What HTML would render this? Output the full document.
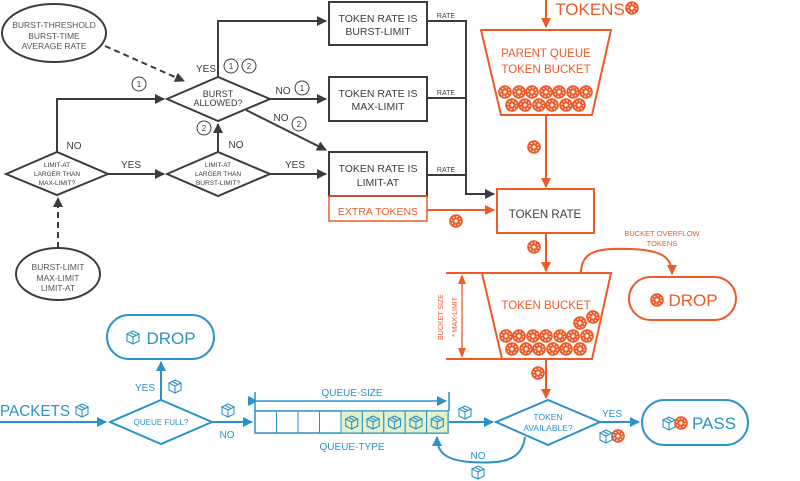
<!DOCTYPE html>
<html><head><meta charset="utf-8"><style>
html,body{margin:0;padding:0;background:#fff;}
svg{display:block;}
text{font-family:"Liberation Sans",sans-serif;}
</style></head><body>
<svg width="800" height="481" viewBox="0 0 800 481" xmlns="http://www.w3.org/2000/svg">
<defs>
<marker id="ag" markerWidth="10" markerHeight="10" refX="9" refY="5" orient="auto" markerUnits="userSpaceOnUse"><path d="M0,0 L10,5 L0,10 z" fill="#3c3c3c"/></marker>
<marker id="ao" markerWidth="10" markerHeight="10" refX="9" refY="5" orient="auto" markerUnits="userSpaceOnUse"><path d="M0,0 L10,5 L0,10 z" fill="#ee5a28"/></marker>
<marker id="ab" markerWidth="10" markerHeight="10" refX="9" refY="5" orient="auto" markerUnits="userSpaceOnUse"><path d="M0,0 L10,5 L0,10 z" fill="#2a93c8"/></marker>
<g id="tk"><circle r="6.8" fill="#ee5a28"/><circle r="4.3" fill="none" stroke="#fff" stroke-width="1.1" stroke-dasharray="1.6 1.8"/><circle r="1.6" fill="#fff"/></g>
<g id="pk" fill="none" stroke="#2a93c8" stroke-width="1.1"><path d="M-6,-3 L0,-6 L6,-3 L0,0 z M-6,-3 L-6,4 L0,7 L6,4 L6,-3 M0,0 L0,7 M-3,-4.5 L3,-1.5"/></g>
</defs>

<!-- GRAY PART -->
<g fill="none" stroke="#3c3c3c" stroke-width="2">
<ellipse cx="54" cy="33" rx="52" ry="29"/>
<ellipse cx="58" cy="274" rx="42" ry="26"/>
<path d="M6,174 L57,152 L108,174 L57,195 z"/>
<path d="M167,174 L218,152 L270,174 L218,196 z"/>
<path d="M167,99 L218,77 L270,99 L218,121 z"/>
<rect x="329" y="2" width="98" height="43"/>
<rect x="329" y="77" width="98" height="44"/>
<rect x="329" y="152" width="98" height="44"/>
<path d="M57,152 L57,99 L164,99" marker-end="url(#ag)"/>
<path d="M108,174 L164,174" marker-end="url(#ag)"/>
<path d="M218,152 L218,124" marker-end="url(#ag)"/>
<path d="M270,174 L326,174" marker-end="url(#ag)"/>
<path d="M218,77 L218,21 L326,21" marker-end="url(#ag)"/>
<path d="M270,99 L326,99" marker-end="url(#ag)"/>
<path d="M246,110 L326,150" marker-end="url(#ag)"/>
<path d="M427,21 L466,21 L466,194 L494,194" marker-end="url(#ag)"/>
<path d="M427,98 L466,98 M427,175 L466,175"/>
<path d="M105,46 L184,81" stroke-dasharray="6 4" marker-end="url(#ag)"/>
<path d="M58,248 L58,198" stroke-dasharray="6 4" marker-end="url(#ag)"/>
</g>
<g fill="none" stroke="#3c3c3c" stroke-width="1">
<circle cx="139" cy="84" r="7"/><circle cx="231" cy="66" r="7"/><circle cx="249" cy="66" r="7"/>
<circle cx="302" cy="88" r="7"/><circle cx="299" cy="124" r="7"/><circle cx="204" cy="128" r="7"/>
</g>
<g fill="#3c3c3c" font-size="8" text-anchor="middle">
<text x="139" y="87">1</text><text x="231" y="69">1</text><text x="249" y="69">2</text>
<text x="302" y="91">1</text><text x="299" y="127">2</text><text x="204" y="131">2</text>
</g>
<g fill="#555" font-size="8.5" text-anchor="middle">
<text x="54" y="28">BURST-THRESHOLD</text><text x="54" y="39">BURST-TIME</text><text x="54" y="49">AVERAGE RATE</text>
<text x="58" y="270">BURST-LIMIT</text><text x="58" y="281">MAX-LIMIT</text><text x="58" y="291">LIMIT-AT</text>
</g>
<g fill="#3c3c3c" font-size="6.5" text-anchor="middle">
<text x="57" y="167">LIMIT-AT</text><text x="57" y="176">LARGER THAN</text><text x="57" y="185">MAX-LIMIT?</text>
<text x="218" y="167">LIMIT-AT</text><text x="218" y="176">LARGER THAN</text><text x="218" y="185">BURST-LIMIT?</text>
</g>
<g fill="#3c3c3c" font-size="9" text-anchor="middle">
<text x="218" y="97">BURST</text><text x="218" y="106">ALLOWED?</text>
</g>
<g fill="#3c3c3c" font-size="10.5" text-anchor="middle">
<text x="378" y="22">TOKEN RATE IS</text><text x="378" y="35">BURST-LIMIT</text>
<text x="378" y="97">TOKEN RATE IS</text><text x="378" y="110">MAX-LIMIT</text>
<text x="378" y="172">TOKEN RATE IS</text><text x="378" y="186">LIMIT-AT</text>
</g>
<g fill="#3c3c3c" font-size="10" text-anchor="middle">
<text x="74" y="149">NO</text><text x="131" y="168">YES</text><text x="236" y="148">NO</text>
<text x="295" y="168">YES</text><text x="206" y="72">YES</text><text x="283" y="94">NO</text><text x="281" y="121">NO</text>
</g>
<g fill="#3c3c3c" font-size="7" text-anchor="middle">
<text x="446" y="18">RATE</text><text x="446" y="95">RATE</text><text x="446" y="172">RATE</text>
</g>

<!-- ORANGE PART -->
<g fill="none" stroke="#ee5a28" stroke-width="2">
<rect x="329" y="196" width="98" height="25" stroke-width="1.5"/>
<path d="M427,210 L494,210" marker-end="url(#ao)"/>
<rect x="497" y="189" width="97" height="44"/>
<path d="M546,0 L546,27" marker-end="url(#ao)"/>
<path d="M481,30 L611,30 L592,115 L501,115 z"/>
<path d="M546,115 L546,187" marker-end="url(#ao)"/>
<path d="M546,233 L546,271" marker-end="url(#ao)"/>
<path d="M446,273 L611,273 L592,359 L502,359 L482,273"/>
<path d="M446,359 L502,359"/>
<path d="M462,282 L462,350" stroke-width="1.3"/>
<rect x="629" y="277" width="107" height="43" rx="21.5"/>
<path d="M581,273 C581,250 600,248 630,249 C660,250 672,256 672,274" marker-end="url(#ao)"/>
<path d="M546,359 L546,398" marker-end="url(#ao)"/>
</g>
<path d="M462,274 L458,284 L466,284 z M462,358 L458,348 L466,348 z" fill="#ee5a28"/>
<g fill="#ee5a28" text-anchor="middle">
<text x="378" y="215" font-size="10.5">EXTRA TOKENS</text>
<text x="590" y="15" font-size="17">TOKENS</text>
<text x="546" y="57" font-size="11.5">PARENT QUEUE</text>
<text x="546" y="73" font-size="11.5">TOKEN BUCKET</text>
<text x="546" y="309" font-size="11.5">TOKEN BUCKET</text>
<text x="662" y="236" font-size="7.5">BUCKET OVERFLOW</text>
<text x="662" y="246" font-size="7.5">TOKENS</text>
<text x="693" y="306" font-size="17">DROP</text>
<text transform="translate(443,317) rotate(-90)" font-size="7">BUCKET SIZE</text>
<text transform="translate(457,317) rotate(-90)" font-size="7">* MAX-LIMIT</text>
</g>
<text x="545" y="218" font-size="11.5" fill="#3c3c3c" text-anchor="middle">TOKEN RATE</text>
<use href="#tk" x="632" y="8"/><use href="#tk" x="456" y="221"/>
<use href="#tk" x="534" y="147"/><use href="#tk" x="534" y="247"/><use href="#tk" x="657" y="300"/>
<use href="#tk" x="538" y="373"/><use href="#tk" x="618" y="436"/>
<g>
<use href="#tk" x="505" y="92"/><use href="#tk" x="519" y="92"/><use href="#tk" x="532" y="92"/><use href="#tk" x="546" y="92"/><use href="#tk" x="559" y="92"/><use href="#tk" x="573" y="92"/><use href="#tk" x="586" y="92"/>
<use href="#tk" x="512" y="105"/><use href="#tk" x="525" y="105"/><use href="#tk" x="539" y="105"/><use href="#tk" x="552" y="105"/><use href="#tk" x="566" y="105"/><use href="#tk" x="579" y="105"/>
<use href="#tk" x="506" y="336"/><use href="#tk" x="519" y="336"/><use href="#tk" x="533" y="336"/><use href="#tk" x="546" y="336"/><use href="#tk" x="560" y="336"/><use href="#tk" x="573" y="336"/><use href="#tk" x="587" y="336"/>
<use href="#tk" x="512" y="349"/><use href="#tk" x="526" y="349"/><use href="#tk" x="539" y="349"/><use href="#tk" x="553" y="349"/><use href="#tk" x="566" y="349"/><use href="#tk" x="580" y="349"/>
<use href="#tk" x="580" y="323"/><use href="#tk" x="593" y="317"/>
</g>

<!-- BLUE PART -->
<g fill="none" stroke="#2a93c8" stroke-width="2">
<path d="M0,422 L106,422" marker-end="url(#ab)"/>
<path d="M110,422 L161,400 L212,422 L161,444 z"/>
<path d="M161,400 L161,362" marker-end="url(#ab)"/>
<rect x="107" y="315" width="107" height="44" rx="22"/>
<path d="M212,422 L252,422" marker-end="url(#ab)"/>
<rect x="255" y="411" width="193" height="22" stroke-width="1.5"/>
<path d="M255,392 L255,411 M449,392 L449,411" stroke-width="1.5"/>
<path d="M257,401 L446,401" stroke-width="1.5" marker-start="url(#ab)" marker-end="url(#ab)"/>
<path d="M449,422 L493,422" marker-end="url(#ab)"/>
<path d="M496,422 L548,400 L600,422 L548,445 z"/>
<path d="M600,422 L639,422" marker-end="url(#ab)"/>
<rect x="642" y="400" width="106" height="45" rx="22.5"/>
<path d="M525,437 C522,462 500,464 470,462 C445,460 437,452 437,437" marker-end="url(#ab)"/>
</g>
<g fill="#e3f0c8" stroke="#2a93c8" stroke-width="1">
<rect x="341" y="411" width="21.4" height="22"/><rect x="362.4" y="411" width="21.4" height="22"/><rect x="383.8" y="411" width="21.4" height="22"/><rect x="405.2" y="411" width="21.4" height="22"/><rect x="426.6" y="411" width="21.4" height="22"/>
</g>
<g stroke="#2a93c8" stroke-width="1"><path d="M276.5,411 V433 M298,411 V433 M319.5,411 V433"/></g>
<g>
<use href="#pk" x="351.7" y="422"/><use href="#pk" x="373.1" y="422"/><use href="#pk" x="394.5" y="422"/><use href="#pk" x="415.9" y="422"/><use href="#pk" x="437.3" y="422"/>
<use href="#pk" x="82" y="410"/><use href="#pk" x="175" y="386"/><use href="#pk" x="228" y="410"/><use href="#pk" x="465" y="412"/><use href="#pk" x="478" y="472"/><use href="#pk" x="606" y="436"/><use href="#pk" x="133" y="337"/><use href="#pk" x="669" y="423"/>
</g>
<use href="#tk" x="681" y="423"/>
<g fill="#2a93c8" text-anchor="middle">
<text x="0" y="416" font-size="16" text-anchor="start" textLength="70" lengthAdjust="spacingAndGlyphs">PACKETS</text>
<text x="171" y="344" font-size="17">DROP</text>
<text x="714" y="429" font-size="17">PASS</text>
<text x="161" y="425" font-size="8">QUEUE FULL?</text>
<text x="548" y="420" font-size="8.5">TOKEN</text><text x="548" y="431" font-size="8.5">AVAILABLE?</text>
<text x="145" y="391" font-size="10">YES</text><text x="227" y="438" font-size="10">NO</text>
<text x="352" y="396" font-size="10">QUEUE-SIZE</text><text x="352" y="450" font-size="10">QUEUE-TYPE</text>
<text x="612" y="417" font-size="10">YES</text><text x="478" y="459" font-size="10">NO</text>
</g>
</svg>
</body></html>
